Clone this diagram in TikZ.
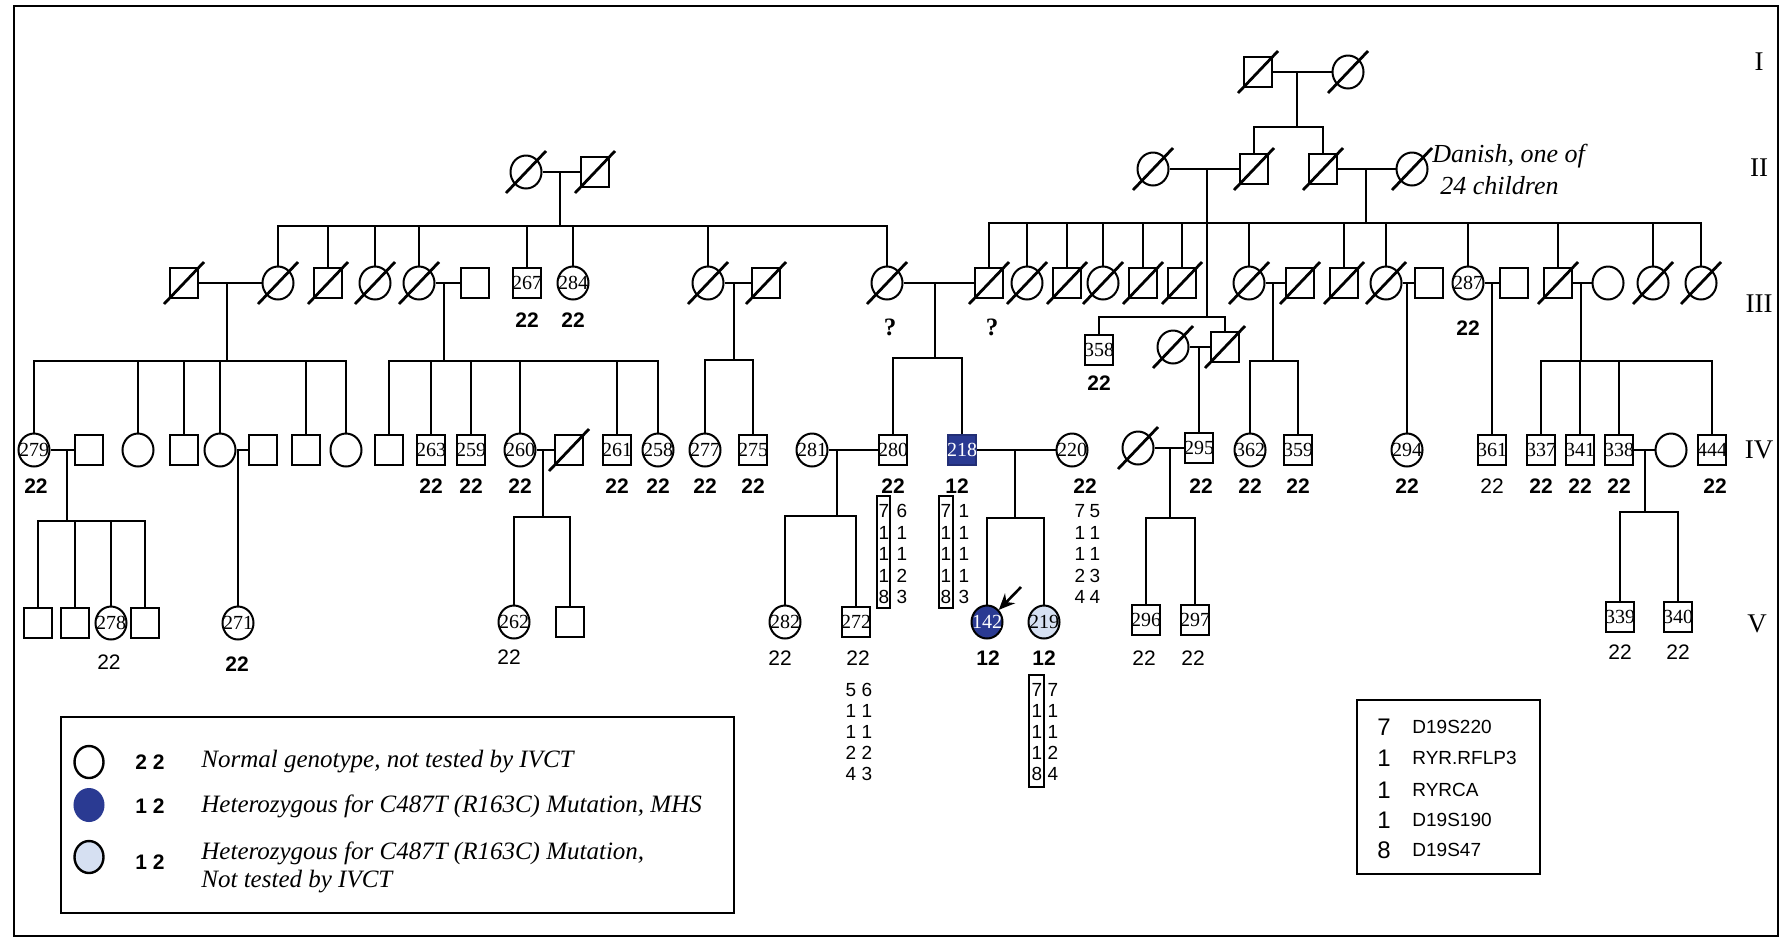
\documentclass[tikz,border=0pt]{standalone}
\usepackage{fontspec}
\setmainfont{Liberation Serif}
\setsansfont{Liberation Sans}
\usetikzlibrary{shapes.geometric,arrows.meta}
\definecolor{dblue}{RGB}{42,58,146}
\definecolor{lblue}{RGB}{214,224,242}
\newcommand\fId{\fontsize{10}{10}\selectfont\rmfamily}
\newcommand\fLb{\fontsize{10.5}{10.5}\selectfont\sffamily\bfseries}
\newcommand\fLr{\fontsize{10.5}{10.5}\selectfont\sffamily}
\newcommand\fHp{\fontsize{9.5}{9.5}\selectfont\sffamily}
\newcommand\fGen{\fontsize{13.5}{13.5}\selectfont\rmfamily}
\newcommand\fLeg{\fontsize{12.5}{13}\selectfont\rmfamily\itshape}
\newcommand\fQ{\fontsize{12.5}{12.5}\selectfont\rmfamily\bfseries}
\newcommand\fMk{\fontsize{12}{12}\selectfont\sffamily}
\newcommand\fMn{\fontsize{9.5}{9.5}\selectfont\sffamily}
\newcommand\zc[1]{\makebox[0pt]{#1}}
\newcommand\dead[1]{\draw[slash] ([shift={(-20,21)}]#1.center) -- ([shift={(20,-21)}]#1.center);}
\newcommand\hcol[5]{\foreach \v [count=\i] in {#5} \node[hp] (#1\i) at ({#2},{#3+(\i-1)*#4}) {\v};}
\begin{document}
\begin{tikzpicture}[x=0.5pt,y=-0.5pt,
 ln/.style={line width=0.9pt},
 sq/.style={draw, line width=1pt, rectangle, minimum width=14pt, minimum height=15pt, inner sep=0pt, font=\fId},
 ci/.style={draw, line width=1pt, ellipse, minimum width=15.5pt, minimum height=16.5pt, inner sep=0pt, font=\fId},
 slash/.style={line width=1.4pt},
 lb/.style={font=\fLb, inner sep=0pt},
 lr/.style={font=\fLr, inner sep=0pt},
 hp/.style={font=\fHp, inner sep=0pt},
 hbox/.style={draw, line width=0.8pt, inner sep=0pt},
 gen/.style={font=\fGen, inner sep=0pt},
 qm/.style={font=\fQ, inner sep=0pt},
 lt/.style={font=\fLeg, inner sep=0pt, anchor=west},
 lk/.style={font=\fLb, inner sep=0pt},
 mk/.style={font=\fMk, inner sep=0pt},
 mn/.style={font=\fMn, inner sep=0pt, anchor=west},
 dan/.style={font=\fontsize{13}{13}\selectfont\rmfamily\itshape, inner sep=0pt, anchor=west}]
\fill[white] (0,0) rectangle (1786,939);
\useasboundingbox (0,0) rectangle (1786,939);
\draw[line width=1pt] (14,6) rectangle (1778,936);

% ---------- Generation I
\node[sq] (s1) at (1258,72) {};
\node[ci] (c1) at (1348,72) {};
% ---------- Generation II
\node[ci] (cA) at (526,172) {};
\node[sq] (sA) at (595,172) {};
\node[ci] (cB) at (1153,169) {};
\node[sq] (sB) at (1254,169) {};
\node[sq] (sC) at (1323,169) {};
\node[ci] (cC) at (1412,169) {};
\node[dan] (dan1) at (1432,156) {Danish, one of};
\node[dan] (dan2) at (1440,186) {24 children};
% ---------- Generation III
\node[sq] (s3a) at (184,283) {};
\node[ci] (c3a) at (278,283) {};
\node[sq] (s3b) at (328,283) {};
\node[ci] (c3b) at (375,283) {};
\node[ci] (c3c) at (419,283) {};
\node[sq] (s3c) at (475,283) {};
\node[sq] (s267) at (527,283) {\zc{267}};
\node[ci] (c284) at (573,283) {\zc{284}};
\node[ci] (c3d) at (708,283) {};
\node[sq] (s3d) at (766,283) {};
\node[ci] (c3q) at (887,283) {};
\node[sq] (s3q) at (989,283) {};
\node[ci] (c3e) at (1027,283) {};
\node[sq] (s3e) at (1067,283) {};
\node[ci] (c3f) at (1103,283) {};
\node[sq] (s3f) at (1143,283) {};
\node[sq] (s3g) at (1182,283) {};
\node[ci] (c3h) at (1249,283) {};
\node[sq] (s3h) at (1300,283) {};
\node[sq] (s3i) at (1344,283) {};
\node[ci] (c3j) at (1386,283) {};
\node[sq] (s3j) at (1429,283) {};
\node[ci] (c287) at (1468,283) {\zc{287}};
\node[sq] (s3k) at (1514,283) {};
\node[sq] (s3l) at (1558,283) {};
\node[ci] (c3l) at (1608,283) {};
\node[ci] (c3m) at (1653,283) {};
\node[ci] (c3n) at (1701,283) {};
\node[sq] (s358) at (1099,350) {\zc{358}};
\node[ci] (c3o) at (1173,347) {};
\node[sq] (s3o) at (1225,347) {};
% ---------- Generation IV
\node[ci] (c279) at (34,450) {\zc{279}};
\node[sq] (s4a) at (89,450) {};
\node[ci] (c4b) at (138,450) {};
\node[sq] (s4c) at (184,450) {};
\node[ci] (c4d) at (220,450) {};
\node[sq] (s4e) at (263,450) {};
\node[sq] (s4f) at (306,450) {};
\node[ci] (c4g) at (346,450) {};
\node[sq] (s4h) at (389,450) {};
\node[sq] (s263) at (431,450) {\zc{263}};
\node[sq] (s259) at (471,450) {\zc{259}};
\node[ci] (c260) at (520,450) {\zc{260}};
\node[sq] (s4i) at (569,450) {};
\node[sq] (s261) at (617,450) {\zc{261}};
\node[ci] (c258) at (658,450) {\zc{258}};
\node[ci] (c277) at (705,450) {\zc{277}};
\node[sq] (s275) at (753,450) {\zc{275}};
\node[ci] (c281) at (812,450) {\zc{281}};
\node[sq] (s280) at (893,450) {\zc{280}};
\node[sq, fill=dblue, draw=dblue!80!black, text=white] (s218) at (962,450) {\zc{218}};
\node[ci] (c220) at (1072,450) {\zc{220}};
\node[ci] (c4j) at (1138,448) {};
\node[sq] (s295) at (1199,448) {\zc{295}};
\node[ci] (c362) at (1250,450) {\zc{362}};
\node[sq] (s359) at (1298,450) {\zc{359}};
\node[ci] (c294) at (1407,450) {\zc{294}};
\node[sq] (s361) at (1492,450) {\zc{361}};
\node[sq] (s337) at (1541,450) {\zc{337}};
\node[sq] (s341) at (1580,450) {\zc{341}};
\node[sq] (s338) at (1619,450) {\zc{338}};
\node[ci] (c4k) at (1671,450) {};
\node[sq] (s444) at (1712,450) {\zc{444}};
% ---------- Generation V
\node[sq] (s5a) at (38,623) {};
\node[sq] (s5b) at (75,623) {};
\node[ci] (c278) at (111,623) {\zc{278}};
\node[sq] (s5c) at (145,623) {};
\node[ci] (c271) at (238,623) {\zc{271}};
\node[ci] (c262) at (514,622) {\zc{262}};
\node[sq] (s5d) at (570,622) {};
\node[ci] (c282) at (785,622) {\zc{282}};
\node[sq] (s272) at (856,622) {\zc{272}};
\node[ci, fill=dblue, text=white] (c142) at (987,622) {\zc{142}};
\node[ci, fill=lblue] (c219) at (1044,622) {\zc{219}};
\node[sq] (s296) at (1146,620) {\zc{296}};
\node[sq] (s297) at (1195,620) {\zc{297}};
\node[sq] (s339) at (1620,617) {\zc{339}};
\node[sq] (s340) at (1678,617) {\zc{340}};

% ---------- deceased slashes
\foreach \n in {s1,c1,cA,sA,cB,sB,sC,cC,s3a,c3a,s3b,c3b,c3c,c3d,s3d,c3q,s3q,c3e,s3e,c3f,s3f,s3g,c3h,s3h,s3i,c3j,s3l,c3m,c3n,c3o,s3o,s4i,c4j} {\dead{\n}}

% ---------- junction coordinates
\coordinate (mI) at (1297,72);   \coordinate (jI) at (1297,127);
\coordinate (mA) at (560,172);   \coordinate (jA) at (560,226);
\coordinate (mB) at (1207,169);  \coordinate (jB) at (1207,317);
\coordinate (mC) at (1366,169);  \coordinate (jC) at (1366,223);
\coordinate (m3a) at (227,283);  \coordinate (j3a) at (227,361);
\coordinate (m3c) at (444,283);  \coordinate (j3c) at (444,361);
\coordinate (m3d) at (734,283);  \coordinate (j3d) at (734,360);
\coordinate (m3q) at (935,283);  \coordinate (j3q) at (935,358);
\coordinate (m3h) at (1273,283); \coordinate (j3h) at (1273,361);
\coordinate (m3j) at (1407,283);
\coordinate (m3k) at (1492,283);
\coordinate (m3l) at (1581,283); \coordinate (j3l) at (1581,361);
\coordinate (m3o) at (1199,347);
\coordinate (m4a) at (67,450);   \coordinate (j4a) at (67,521);
\coordinate (m4d) at (238,450);
\coordinate (m4i) at (543,450);  \coordinate (j4i) at (543,517);
\coordinate (m4r) at (837,450);  \coordinate (j4r) at (837,516);
\coordinate (m4s) at (1015,450); \coordinate (j4s) at (1015,518);
\coordinate (m4j) at (1170,448); \coordinate (j4j) at (1170,518);
\coordinate (m4k) at (1645,450); \coordinate (j4k) at (1645,512);

% ---------- marriage lines
\foreach \a/\b in {s1/c1,cA/sA,cB/sB,sC/cC,s3a/c3a,c3c/s3c,c3d/s3d,c3q/s3q,c3h/s3h,c3j/s3j,c287/s3k,s3l/c3l,c3o/s3o,c279/s4a,c4d/s4e,c260/s4i,c281/s280,s218/c220,c4j/s295,s338/c4k}
  {\draw[ln] (\a.east) -- (\b.west);}

% ---------- descent lines
\draw[ln] (mI) -- (jI);  \foreach \n in {sB,sC} {\draw[ln] (\n.north) |- (jI);}
\draw[ln] (mA) -- (jA);  \foreach \n in {c3a,s3b,c3b,c3c,s267,c284,c3d,c3q} {\draw[ln] (\n.north) |- (jA);}
\draw[ln] (mB) -- (jB);  \foreach \n in {s358,s3o} {\draw[ln] (\n.north) |- (jB);}
\draw[ln] (mC) -- (jC);  \foreach \n in {s3q,c3e,s3e,c3f,s3f,s3g,c3h,s3i,c3j,c287,s3l,c3m,c3n} {\draw[ln] (\n.north) |- (jC);}
\draw[ln] (m3a) -- (j3a); \foreach \n in {c279,c4b,s4c,c4d,s4f,c4g} {\draw[ln] (\n.north) |- (j3a);}
\draw[ln] (m3c) -- (j3c); \foreach \n in {s4h,s263,s259,c260,s261,c258} {\draw[ln] (\n.north) |- (j3c);}
\draw[ln] (m3d) -- (j3d); \foreach \n in {c277,s275} {\draw[ln] (\n.north) |- (j3d);}
\draw[ln] (m3q) -- (j3q); \foreach \n in {s280,s218} {\draw[ln] (\n.north) |- (j3q);}
\draw[ln] (m3h) -- (j3h); \foreach \n in {c362,s359} {\draw[ln] (\n.north) |- (j3h);}
\draw[ln] (m3j) -- (c294.north);
\draw[ln] (m3k) -- (s361.north);
\draw[ln] (m3l) -- (j3l); \foreach \n in {s337,s341,s338,s444} {\draw[ln] (\n.north) |- (j3l);}
\draw[ln] (m3o) -- (s295.north);
\draw[ln] (m4a) -- (j4a); \foreach \n in {s5a,s5b,c278,s5c} {\draw[ln] (\n.north) |- (j4a);}
\draw[ln] (m4d) -- (c271.north);
\draw[ln] (m4i) -- (j4i); \foreach \n in {c262,s5d} {\draw[ln] (\n.north) |- (j4i);}
\draw[ln] (m4r) -- (j4r); \foreach \n in {c282,s272} {\draw[ln] (\n.north) |- (j4r);}
\draw[ln] (m4s) -- (j4s); \foreach \n in {c142,c219} {\draw[ln] (\n.north) |- (j4s);}
\draw[ln] (m4j) -- (j4j); \foreach \n in {s296,s297} {\draw[ln] (\n.north) |- (j4j);}
\draw[ln] (m4k) -- (j4k); \foreach \n in {s339,s340} {\draw[ln] (\n.north) |- (j4k);}

% ---------- proband arrow
\coordinate (arrT) at (1021,587);
\draw[line width=1.3pt, -{Stealth[length=8pt,width=7pt]}] (arrT) -- (c142);

% ---------- genotype labels
\node[lb] (t267) at (527,320) {22};
\node[lb] (t284) at (573,320) {22};
\node[lb] (t287) at (1468,328) {22};
\node[lb] (t358) at (1099,383) {22};
\node[qm] (q1) at (890,327) {?};
\node[qm] (q2) at (992,327) {?};
\foreach \x/\n in {36/279,431/263,471/259,520/260,617/261,658/258,705/277,753/275,893/280,1085/220,1201/295,1250/362,1298/359,1407/294,1541/337,1580/341,1619/338,1715/444}
  {\node[lb] (t\n) at (\x,486) {22};}
\node[lb] (t218) at (957,486) {12};
\node[lr] (t361) at (1492,486) {22};
\node[lr] (t278) at (109,662) {22};
\node[lb] (t271) at (237,664) {22};
\node[lr] (t262) at (509,657) {22};
\node[lr] (t282) at (780,658) {22};
\node[lr] (t272) at (858,658) {22};
\node[lb] (t142) at (988,658) {12};
\node[lb] (t219) at (1044,658) {12};
\node[lr] (t296) at (1144,658) {22};
\node[lr] (t297) at (1193,658) {22};
\node[lr] (t339) at (1620,652) {22};
\node[lr] (t340) at (1678,652) {22};

% ---------- haplotypes
\node[hbox, minimum width=6.5pt, minimum height=56pt] (b280) at (883.5,552) {};
\node[hbox, minimum width=7pt, minimum height=56pt] (b218) at (946,552) {};
\node[hbox, minimum width=7.5pt, minimum height=56pt] (b219) at (1036.5,731) {};
\hcol{h280a}{884}{511}{21.5}{7,1,1,1,8}
\hcol{h280b}{902}{511}{21.5}{6,1,1,2,3}
\hcol{h218a}{946}{511}{21.5}{7,1,1,1,8}
\hcol{h218b}{964}{511}{21.5}{1,1,1,1,3}
\hcol{h220a}{1080}{511}{21.5}{7,1,1,2,4}
\hcol{h220b}{1095}{511}{21.5}{5,1,1,3,4}
\hcol{h272a}{851}{690}{21}{5,1,1,2,4}
\hcol{h272b}{867}{690}{21}{6,1,1,2,3}
\hcol{h219a}{1037}{690}{21}{7,1,1,1,8}
\hcol{h219b}{1053}{690}{21}{7,1,1,2,4}

% ---------- generation numerals
\node[gen] (gI) at (1759,62) {I};
\node[gen] (gII) at (1759,168) {II};
\node[gen] (gIII) at (1759,304) {III};
\node[gen] (gIV) at (1759,450) {IV};
\node[gen] (gV) at (1757,624) {V};

% ---------- legend 1
\node[draw, line width=1pt, minimum width=336.5pt, minimum height=98pt, inner sep=0pt] (leg1) at (397.5,815) {};
\node[ci, minimum width=14.5pt, minimum height=16pt, line width=1.2pt] (lc1) at (89,762) {};
\node[ci, minimum width=14.5pt, minimum height=16pt, fill=dblue, draw=dblue] (lc2) at (89,805) {};
\node[ci, minimum width=14.5pt, minimum height=16pt, line width=1.2pt, fill=lblue] (lc3) at (89,857) {};
\node[lk] (lk1) at (150,762) {2 2};
\node[lk] (lk2) at (150,806) {1 2};
\node[lk] (lk3) at (150,862) {1 2};
\node[lt] (lt1) at (201,762) {Normal genotype, not tested by IVCT};
\node[lt] (lt2) at (201,806) {Heterozygous for C487T (R163C) Mutation, MHS};
\node[lt] (lt3) at (201,853) {Heterozygous for C487T (R163C) Mutation,};
\node[lt] (lt4) at (201,882) {Not tested by IVCT};

% ---------- legend 2 (markers)
\node[draw, line width=1pt, minimum width=91.5pt, minimum height=87pt, inner sep=0pt] (leg2) at (1448.5,787) {};
\foreach \y/\d/\t [count=\i] in {727/7/D19S220,758/1/RYR.RFLP3,790/1/RYRCA,820/1/D19S190,850/8/D19S47}
  {\node[mk] (mkd\i) at (1384,\y) {\d}; \node[mn] (mkn\i) at (1412,\y) {\t};}
\end{tikzpicture}
\end{document}
